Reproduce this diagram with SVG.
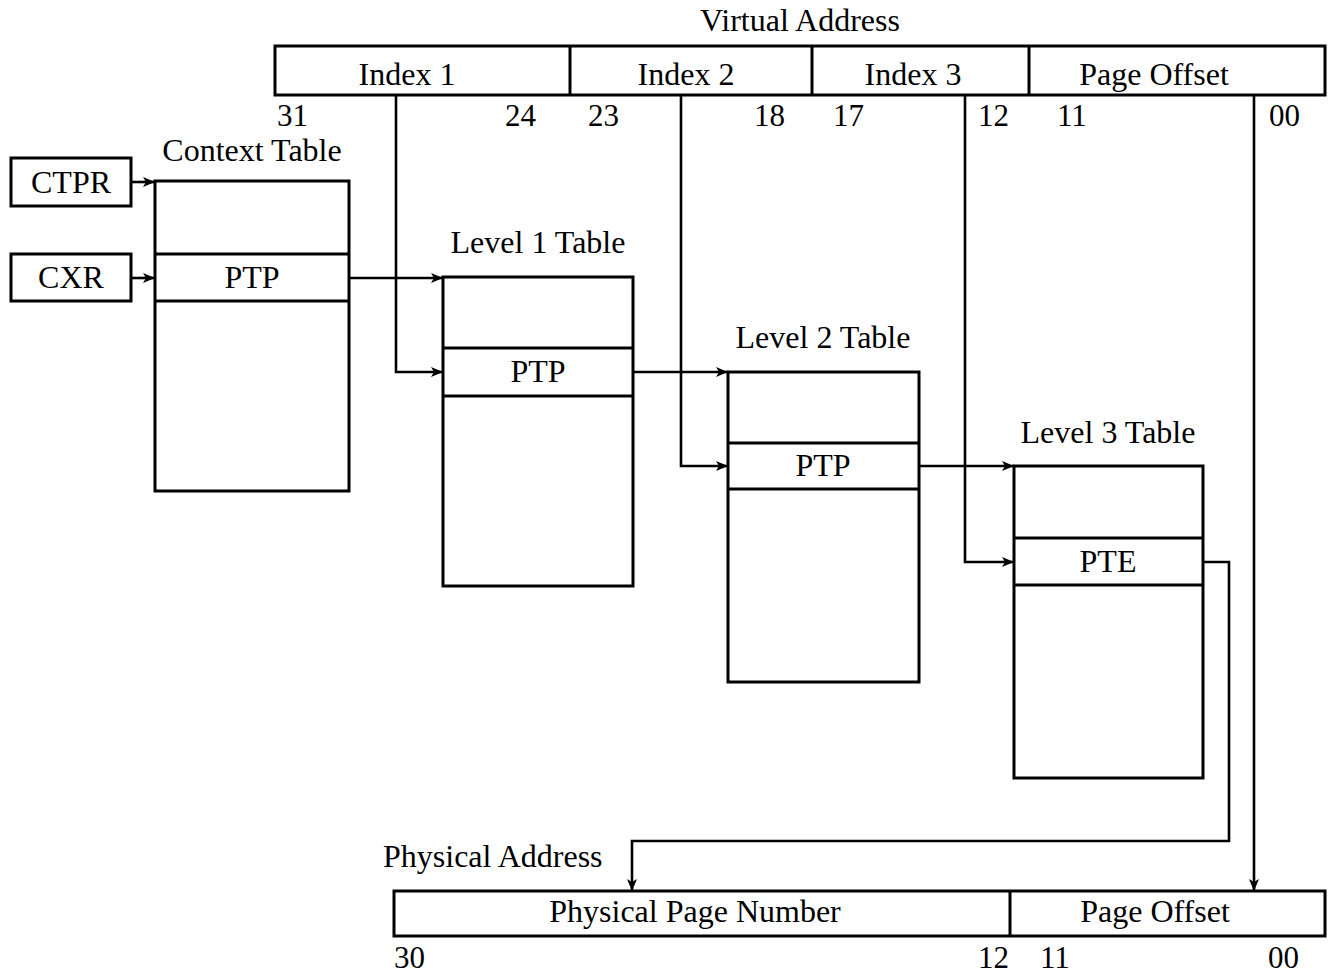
<svg xmlns="http://www.w3.org/2000/svg" width="1328" height="973" viewBox="0 0 1328 973">
<defs>
<style>
.b{fill:#fff;stroke:#000;stroke-width:3}
.l{fill:none;stroke:#000;stroke-width:3}
.c{fill:none;stroke:#000;stroke-width:2.6}
text{font-family:"Liberation Serif","Times New Roman",serif;font-size:32px;fill:#000}
.n{font-size:31px}
.m{text-anchor:middle}
.e{text-anchor:end}
</style>
<marker id="a" viewBox="0 0 12 10" refX="12" refY="5" markerWidth="12" markerHeight="10" markerUnits="userSpaceOnUse" orient="auto">
<path d="M0,0 L12,5 L0,10 L3,5 z" fill="#000"/>
</marker>
</defs>
<rect width="1328" height="973" fill="#fff"/>

<g id="virtual-address">
<text class="m" x="800" y="31">Virtual Address</text>
<rect class="b" x="275" y="46" width="1050" height="49"/>
<line class="l" x1="570" y1="46" x2="570" y2="95"/>
<line class="l" x1="812" y1="46" x2="812" y2="95"/>
<line class="l" x1="1029" y1="46" x2="1029" y2="95"/>
<text class="m" x="407" y="85">Index 1</text>
<text class="m" x="686" y="85">Index 2</text>
<text class="m" x="913" y="85">Index 3</text>
<text class="m" x="1154" y="85">Page Offset</text>
<text class="n" x="277" y="126">31</text>
<text class="n e" x="536" y="126">24</text>
<text class="n" x="588" y="126">23</text>
<text class="n e" x="785" y="126">18</text>
<text class="n" x="833" y="126">17</text>
<text class="n" x="978" y="126">12</text>
<text class="n" x="1057" y="126">11</text>
<text class="n" x="1269" y="126">00</text>
</g>

<g id="ctpr">
<rect class="b" x="11" y="158" width="120" height="48"/>
<text class="m" x="71" y="193">CTPR</text>
</g>
<g id="cxr">
<rect class="b" x="11" y="254" width="120" height="47"/>
<text class="m" x="71" y="288">CXR</text>
</g>

<g id="context-table">
<text class="m" x="252" y="161">Context Table</text>
<rect class="b" x="155" y="181" width="194" height="310"/>
<line class="l" x1="155" y1="254" x2="349" y2="254"/>
<line class="l" x1="155" y1="301" x2="349" y2="301"/>
<text class="m" x="252" y="288">PTP</text>
</g>

<g id="level1-table">
<text class="m" x="538" y="253">Level 1 Table</text>
<rect class="b" x="443" y="277" width="190" height="309"/>
<line class="l" x1="443" y1="348" x2="633" y2="348"/>
<line class="l" x1="443" y1="396" x2="633" y2="396"/>
<text class="m" x="538" y="382">PTP</text>
</g>

<g id="level2-table">
<text class="m" x="823" y="348">Level 2 Table</text>
<rect class="b" x="728" y="372" width="191" height="310"/>
<line class="l" x1="728" y1="443" x2="919" y2="443"/>
<line class="l" x1="728" y1="489" x2="919" y2="489"/>
<text class="m" x="823" y="476">PTP</text>
</g>

<g id="level3-table">
<text class="m" x="1108" y="443">Level 3 Table</text>
<rect class="b" x="1014" y="466" width="189" height="312"/>
<line class="l" x1="1014" y1="538" x2="1203" y2="538"/>
<line class="l" x1="1014" y1="585" x2="1203" y2="585"/>
<text class="m" x="1108" y="572">PTE</text>
</g>

<g id="physical-address">
<text x="383" y="867">Physical Address</text>
<rect class="b" x="394" y="891" width="931" height="45"/>
<line class="l" x1="1010" y1="891" x2="1010" y2="936"/>
<text class="m" x="695" y="922">Physical Page Number</text>
<text class="m" x="1155" y="922">Page Offset</text>
<text class="n" x="394" y="968">30</text>
<text class="n" x="978" y="968">12</text>
<text class="n" x="1040" y="968">11</text>
<text class="n" x="1268" y="968">00</text>
</g>

<g id="connectors">
<polyline class="c" points="131,182 155,182" marker-end="url(#a)"/>
<polyline class="c" points="131,278 155,278" marker-end="url(#a)"/>
<polyline class="c" points="349,278 443,278" marker-end="url(#a)"/>
<polyline class="c" points="396,95 396,372 443,372" marker-end="url(#a)"/>
<polyline class="c" points="633,372 728,372" marker-end="url(#a)"/>
<polyline class="c" points="681,95 681,466 728,466" marker-end="url(#a)"/>
<polyline class="c" points="919,466 1014,466" marker-end="url(#a)"/>
<polyline class="c" points="965,95 965,562 1014,562" marker-end="url(#a)"/>
<polyline class="c" points="1203,562 1229,562 1229,841 632,841 632,891" marker-end="url(#a)"/>
<polyline class="c" points="1254,95 1254,891" marker-end="url(#a)"/>
</g>
</svg>
